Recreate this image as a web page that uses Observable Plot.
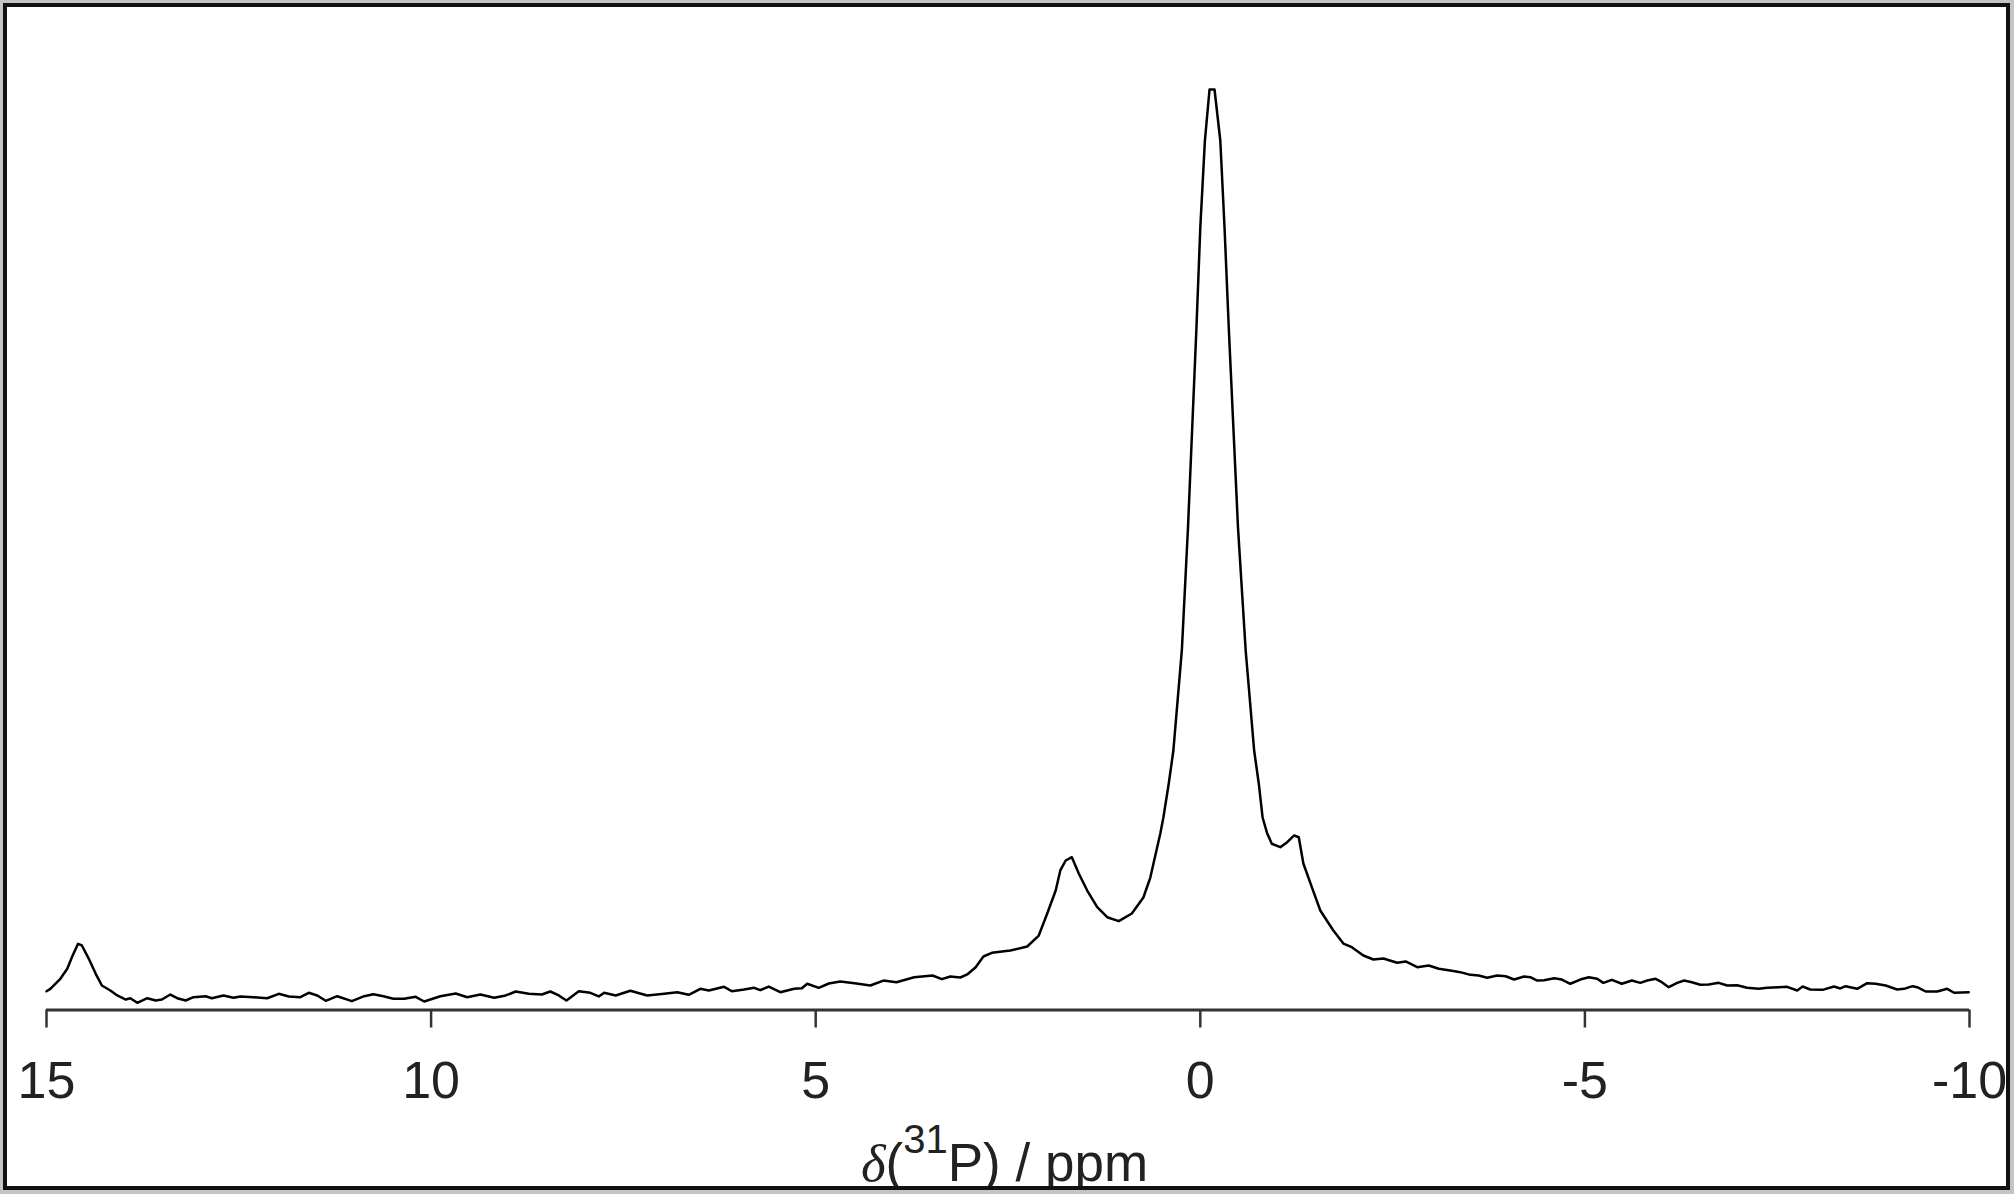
<!DOCTYPE html>
<html>
<head>
<meta charset="utf-8">
<script src="https://cdn.jsdelivr.net/npm/d3@7"></script>
<script src="https://cdn.jsdelivr.net/npm/@observablehq/plot@0.6"></script>
<style>
  html, body { margin: 0; padding: 0; background: #c4c4c4; width: 2014px; height: 1194px; overflow: hidden; }
  #frame { position: absolute; left: 3px; top: 3px; width: 1999px; height: 1179px; border: 4px solid #111; background: #fff; overflow: hidden; }
  #frame svg { position: absolute; left: 0; top: 0; overflow: visible; }
</style>
</head>
<body>
<div id="frame"></div>
<script>
// Chemical shift (ppm) and intensity (% of the main peak)
const shift = [
  15.00, 14.95, 14.82, 14.73, 14.67, 14.59, 14.54, 14.45, 14.36, 14.28, 14.17, 14.08, 13.97, 13.91, 13.82,
  13.69, 13.58, 13.50, 13.39, 13.30, 13.19, 13.09, 12.93, 12.85, 12.70, 12.57, 12.48, 12.31, 12.13, 11.98,
  11.85, 11.70, 11.59, 11.48, 11.37, 11.22, 11.03, 10.87, 10.75, 10.62, 10.49, 10.35, 10.20, 10.09, 10.01,
  9.88, 9.68, 9.53, 9.36, 9.18, 9.03, 8.90, 8.73, 8.56, 8.45, 8.34, 8.24, 8.08, 7.93, 7.82, 7.75, 7.60,
  7.41, 7.19, 6.97, 6.80, 6.65, 6.50, 6.39, 6.19, 6.09, 5.93, 5.80, 5.72, 5.61, 5.46, 5.28, 5.18, 5.11,
  4.96, 4.83, 4.68, 4.47, 4.29, 4.12, 3.95, 3.72, 3.48, 3.36, 3.25, 3.12, 3.03, 2.92, 2.82, 2.71, 2.47,
  2.25, 2.10, 1.99, 1.88, 1.82, 1.75, 1.67, 1.58, 1.47, 1.34, 1.21, 1.06, 0.89, 0.74, 0.65, 0.52, 0.48,
  0.41, 0.35, 0.24, 0.16, 0.105, 0.05, 0.00, -0.06, -0.12, -0.185, -0.26, -0.315, -0.37, -0.43, -0.49,
  -0.59, -0.70, -0.76, -0.81, -0.87, -0.93, -1.04, -1.13, -1.22, -1.28, -1.34, -1.45, -1.56, -1.67, -1.73,
  -1.86, -1.97, -2.12, -2.25, -2.38, -2.56, -2.67, -2.82, -2.97, -3.10, -3.25, -3.38, -3.51, -3.62, -3.73,
  -3.86, -3.97, -4.08, -4.21, -4.29, -4.38, -4.47, -4.60, -4.70, -4.81, -4.94, -5.05, -5.16, -5.24, -5.35,
  -5.48, -5.61, -5.72, -5.81, -5.92, -6.00, -6.09, -6.20, -6.29, -6.39, -6.50, -6.61, -6.74, -6.85, -6.98,
  -7.11, -7.26, -7.37, -7.52, -7.63, -7.76, -7.83, -7.93, -8.09, -8.24, -8.32, -8.39, -8.54, -8.67, -8.78,
  -8.91, -9.06, -9.15, -9.26, -9.32, -9.43, -9.58, -9.71, -9.80, -9.99
];
const intensity = [
  2.04, 2.30, 3.39, 4.48, 5.74, 7.19, 7.01, 5.56, 3.93, 2.66, 2.12, 1.58, 1.14, 1.28, 0.78,
  1.28, 1.03, 1.14, 1.68, 1.28, 1.03, 1.39, 1.50, 1.28, 1.58, 1.33, 1.47, 1.39, 1.28, 1.76,
  1.47, 1.39, 1.87, 1.58, 1.00, 1.50, 0.96, 1.50, 1.72, 1.50, 1.22, 1.22, 1.43, 0.92, 1.14,
  1.50, 1.79, 1.39, 1.68, 1.33, 1.58, 2.01, 1.76, 1.68, 2.01, 1.58, 1.03, 2.04, 1.87, 1.47, 1.87, 1.58,
  2.09, 1.58, 1.76, 1.93, 1.65, 2.30, 2.12, 2.52, 2.04, 2.23, 2.41, 2.15, 2.55, 1.93, 2.30, 2.37, 2.85,
  2.41, 2.88, 3.10, 2.88, 2.66, 3.20, 3.02, 3.56, 3.75, 3.35, 3.64, 3.53, 3.86, 4.65, 5.81, 6.21, 6.46,
  6.90, 8.09, 10.48, 12.98, 15.16, 16.24, 16.60, 14.83, 12.98, 11.17, 10.08, 9.65, 10.48, 12.22, 14.39, 19.17, 20.91,
  24.61, 28.19, 39.06, 52.42, 63.28, 74.15, 85.01, 94.46, 100.0, 100.0, 94.46, 85.01, 74.15, 63.28, 52.42,
  39.06, 28.19, 24.61, 20.91, 19.17, 18.06, 17.69, 18.23, 18.96, 18.77, 15.92, 13.34, 10.81, 9.40, 8.64,
  7.22, 6.82, 5.92, 5.49, 5.59, 5.13, 5.27, 4.65, 4.83, 4.48, 4.29, 4.11, 3.82, 3.75, 3.50,
  3.75, 3.67, 3.31, 3.64, 3.56, 3.20, 3.24, 3.45, 3.31, 2.85, 3.31, 3.56, 3.39, 2.95, 3.28,
  2.85, 3.20, 2.95, 3.20, 3.39, 3.02, 2.48, 2.95, 3.20, 3.02, 2.74, 2.77, 2.95, 2.66, 2.69,
  2.41, 2.30, 2.41, 2.48, 2.52, 2.12, 2.55, 2.23, 2.19, 2.55, 2.34, 2.59, 2.30, 2.91, 2.85,
  2.66, 2.23, 2.30, 2.59, 2.48, 2.01, 2.01, 2.30, 1.87, 1.93
];
const tickValues = [15, 10, 5, 0, -5, -10];
const tickLabels = ["15", "10", "5", "0", "-5", "-10"];

const data = shift.map((s, i) => ({shift: s, intensity: intensity[i]}));

const W = 1999, H = 1179;
const plot = Plot.plot({
  width: W,
  height: H,
  marginLeft: 39,
  marginRight: 37,
  marginTop: 82,
  marginBottom: 176.5,
  style: {background: "transparent", fontFamily: "'Liberation Sans', Arial, sans-serif", color: "#222", overflow: "visible"},
  x: {domain: [15, -10]},
  y: {domain: [0, 100], axis: null},
  marks: [
    Plot.ruleY([0], {stroke: "#333", strokeWidth: 3}),
    Plot.axisX({
      ticks: tickValues,
      tickFormat: d => tickLabels[tickValues.indexOf(d)],
      tickSize: 18,
      tickPadding: 33,
      tickWidth: 2.5,
      stroke: "#333",
      strokeWidth: 2.5,
      fontSize: 52,
      fill: "#222",
      label: null
    }),
    Plot.line(data, {x: "shift", y: "intensity", stroke: "#000", strokeWidth: 2.5, strokeLinejoin: "round", curve: "linear"})
  ]
});

const svg = d3.select(plot);
const title = svg.append("text")
  .attr("x", 997.5)
  .attr("y", 1174)
  .attr("text-anchor", "middle")
  .attr("fill", "#222")
  .style("font-family", "'Liberation Sans', Arial, sans-serif")
  .style("font-size", "53px");
title.append("tspan").style("font-family", "'Liberation Serif', 'Times New Roman', serif").style("font-style", "italic").text("δ");
title.append("tspan").text("(");
title.append("tspan").attr("dy", -28).style("font-size", "40px").text("31");
title.append("tspan").attr("dy", 28).text("P) / ppm");

document.getElementById("frame").appendChild(plot);
</script>
</body>
</html>
